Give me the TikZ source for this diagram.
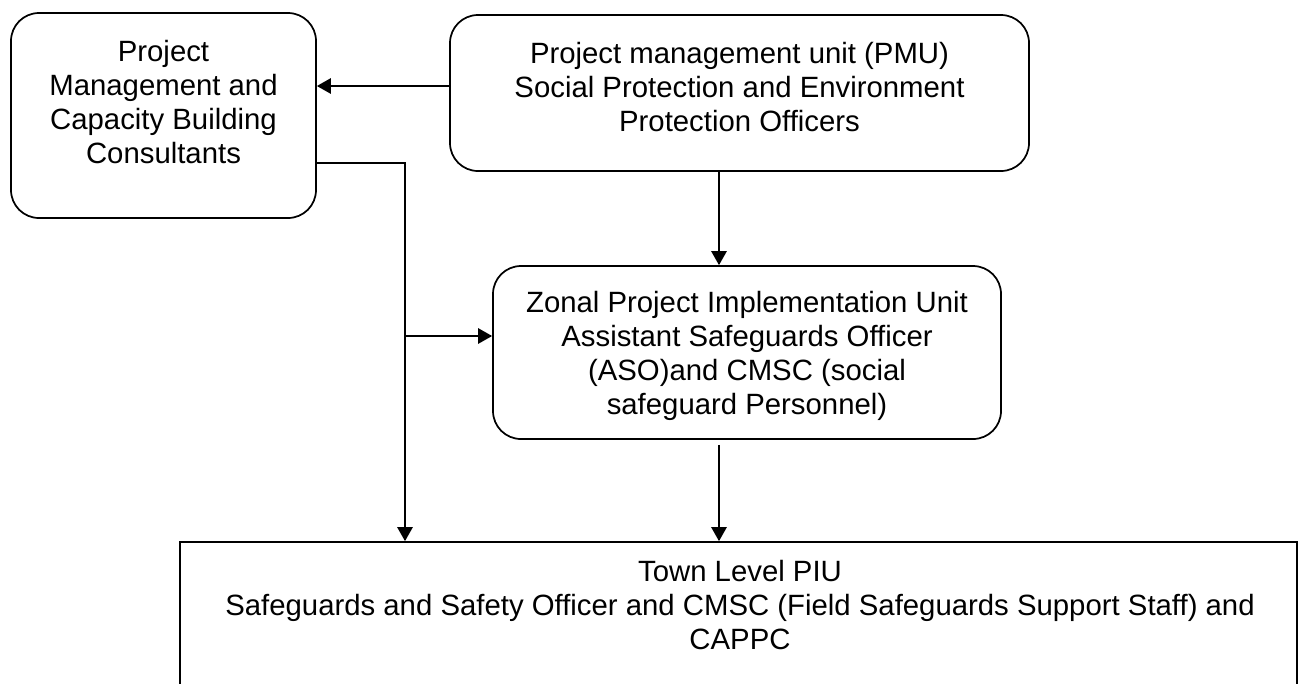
\documentclass[tikz,border=0pt]{standalone}
\usepackage{fontspec}
\setmainfont{Liberation Sans}
\usetikzlibrary{arrows.meta,calc}
\begin{document}
\begin{tikzpicture}[x=0.75pt,y=-0.75pt,
  rbox/.style={draw, line width=1.3pt, rounded corners=21pt, inner sep=0pt},
  sbox/.style={draw, line width=1.3pt, inner sep=0pt},
  txt/.style={align=center, font=\fontsize{22}{25.5}\selectfont, inner sep=0pt},
  conn/.style={line width=1.3pt, -{Triangle[length=10.5pt,width=11.5pt]}},
  ]
\useasboundingbox (0,0) rectangle (1300,683);
% boxes
\node[rbox, minimum width=228.75pt, minimum height=153.75pt] (lb) at (163.5,115.5) {};
\node[rbox, minimum width=434.25pt, minimum height=117pt] (pmu) at (739.5,93) {};
\node[rbox, minimum width=381pt, minimum height=129.75pt] (zonal) at (747,352.5) {};
\node[sbox, minimum width=837.75pt, minimum height=163.5pt] (piu) at (738.5,651) {};
% texts
\node[txt] (lbt) at (163.5,102) {Project\\Management and\\Capacity Building\\Consultants};
\node[txt] (pmut) at (739.5,87) {Project management unit (PMU)\\Social Protection and Environment\\Protection Officers};
\node[txt] (zt) at (747,356) {Zonal Project Implementation Unit\\Assistant Safeguards Officer\\(ASO)and CMSC (social\\safeguard Personnel)};
\node[txt] (piut) at (740,605) {Town Level PIU\\Safeguards and Safety Officer and CMSC (Field Safeguards Support Staff) and\\CAPPC};
% helper coordinates
\coordinate (ya) at (0,86);
\coordinate (bend) at (405,163);
\coordinate (tap) at (405,336);
\coordinate (mx) at (719,0);
% connectors
\draw[conn] (pmu.west |- ya) -- (lb.east |- ya);
\draw[conn] (lb.east |- bend) -- (bend) -- (bend |- piu.north);
\draw[conn] (tap) -- (tap -| zonal.west);
\draw[conn] (pmu.south -| mx) -- (zonal.north -| mx);
\draw[conn] ($(zonal.south -| mx)+(0,5)$) -- (piu.north -| mx);
\end{tikzpicture}
\end{document}
